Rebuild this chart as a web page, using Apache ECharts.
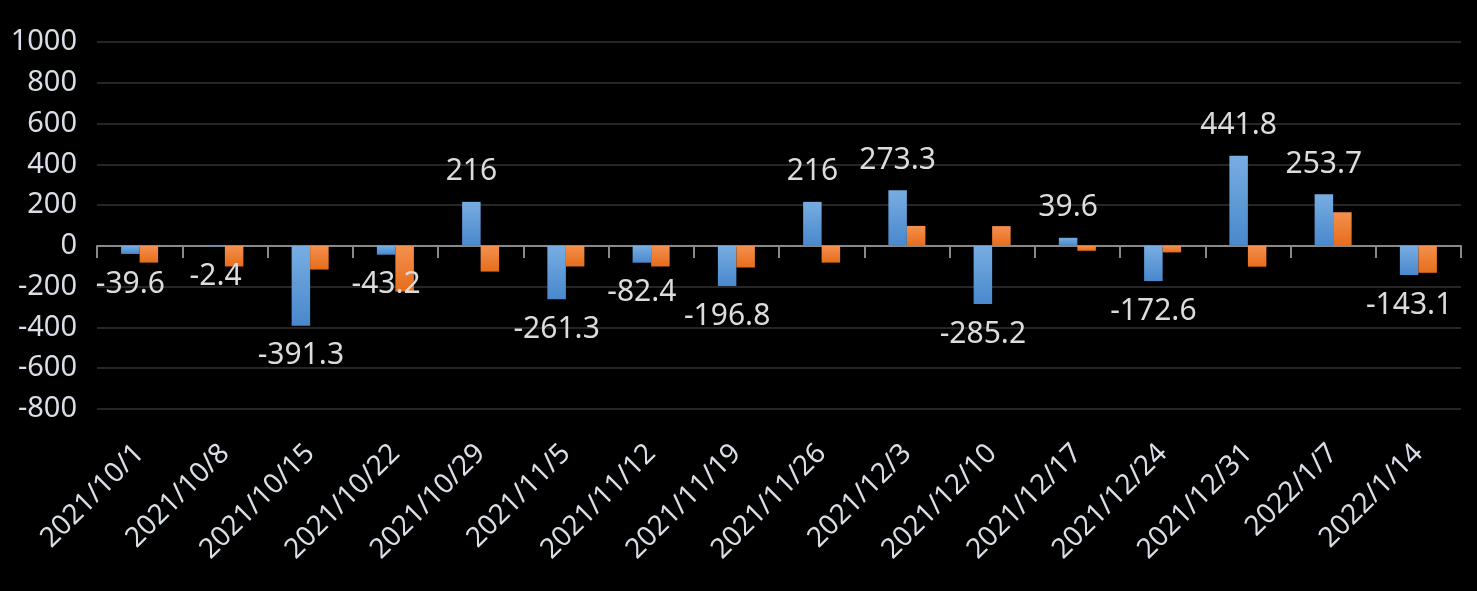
<!DOCTYPE html>
<html>
<head>
<meta charset="utf-8">
<script src="https://cdn.jsdelivr.net/npm/echarts@6/dist/echarts.min.js"></script>
<style>
html,body{margin:0;padding:0;background:#000;}
#c{width:1477px;height:591px;}
</style>
</head>
<body>
<div id="c"></div>
<script>
const categories = ['2021/10/1','2021/10/8','2021/10/15','2021/10/22','2021/10/29','2021/11/5','2021/11/12','2021/11/19','2021/11/26','2021/12/3','2021/12/10','2021/12/17','2021/12/24','2021/12/31','2022/1/7','2022/1/14'];
const blueValues = [-39.6,-2.4,-391.3,-43.2,216,-261.3,-82.4,-196.8,216,273.3,-285.2,39.6,-172.6,441.8,253.7,-143.1];
const orangeValues = [-82,-101,-116,-224,-126,-101,-101,-106,-82,98,97,-24,-32,-102,165,-132];
const yTicks = {min:-800, max:1000, interval:200};

const FONT = '"Noto Sans", "DejaVu Sans", sans-serif';
const chart = echarts.init(document.getElementById('c'), null, {renderer:'canvas'});
const grad = (a,b)=>new echarts.graphic.LinearGradient(0,0,0,1,[{offset:0,color:a},{offset:1,color:b}]);

chart.setOption({
  backgroundColor:'#000',
  animation:false,
  grid:{left:97,right:16,top:42,bottom:182,containLabel:false,outerBoundsMode:'none'},
  xAxis:[
    {
      type:'category',
      data:categories,
      position:'bottom',
      axisLine:{show:false,onZero:false},
      axisTick:{show:false},
      axisLabel:{
        rotate:45,color:'#d8dde6',fontSize:28,fontFamily:FONT,
        interval:0,margin:40,hideOverlap:false
      }
    },
    {
      type:'category',
      data:categories,
      position:'bottom',
      axisLine:{onZero:true,lineStyle:{color:'#898989',width:2}},
      axisTick:{show:true,length:12,lineStyle:{color:'#898989',width:2}},
      axisLabel:{show:false}
    }
  ],
  yAxis:{
    type:'value',
    min:yTicks.min,max:yTicks.max,interval:yTicks.interval,
    axisLine:{show:false},axisTick:{show:false},
    splitLine:{lineStyle:{color:'#262626',width:2}},
    axisLabel:{color:'#d8dde6',fontSize:29,fontFamily:FONT,margin:20,
      showMinLabel:true,showMaxLabel:true,hideOverlap:false,
      formatter:v=>String(v)}
  },
  series:[
    {
      type:'bar',
      xAxisIndex:0,
      barWidth:18.5,
      barGap:'0%',
      itemStyle:{color:grad('#78ade2','#4888cc')},
      data:blueValues.map(v=>({
        value:v,
        label:{show:true,position:v<0?'bottom':'top',distance:15,
          color:'#dcdcdc',fontSize:30,fontFamily:FONT}
      }))
    },
    {
      type:'bar',
      xAxisIndex:0,
      barWidth:18.5,
      barGap:'0%',
      itemStyle:{color:grad('#f4904e','#e66d1c')},
      data:orangeValues
    }
  ]
});
</script>
</body>
</html>
